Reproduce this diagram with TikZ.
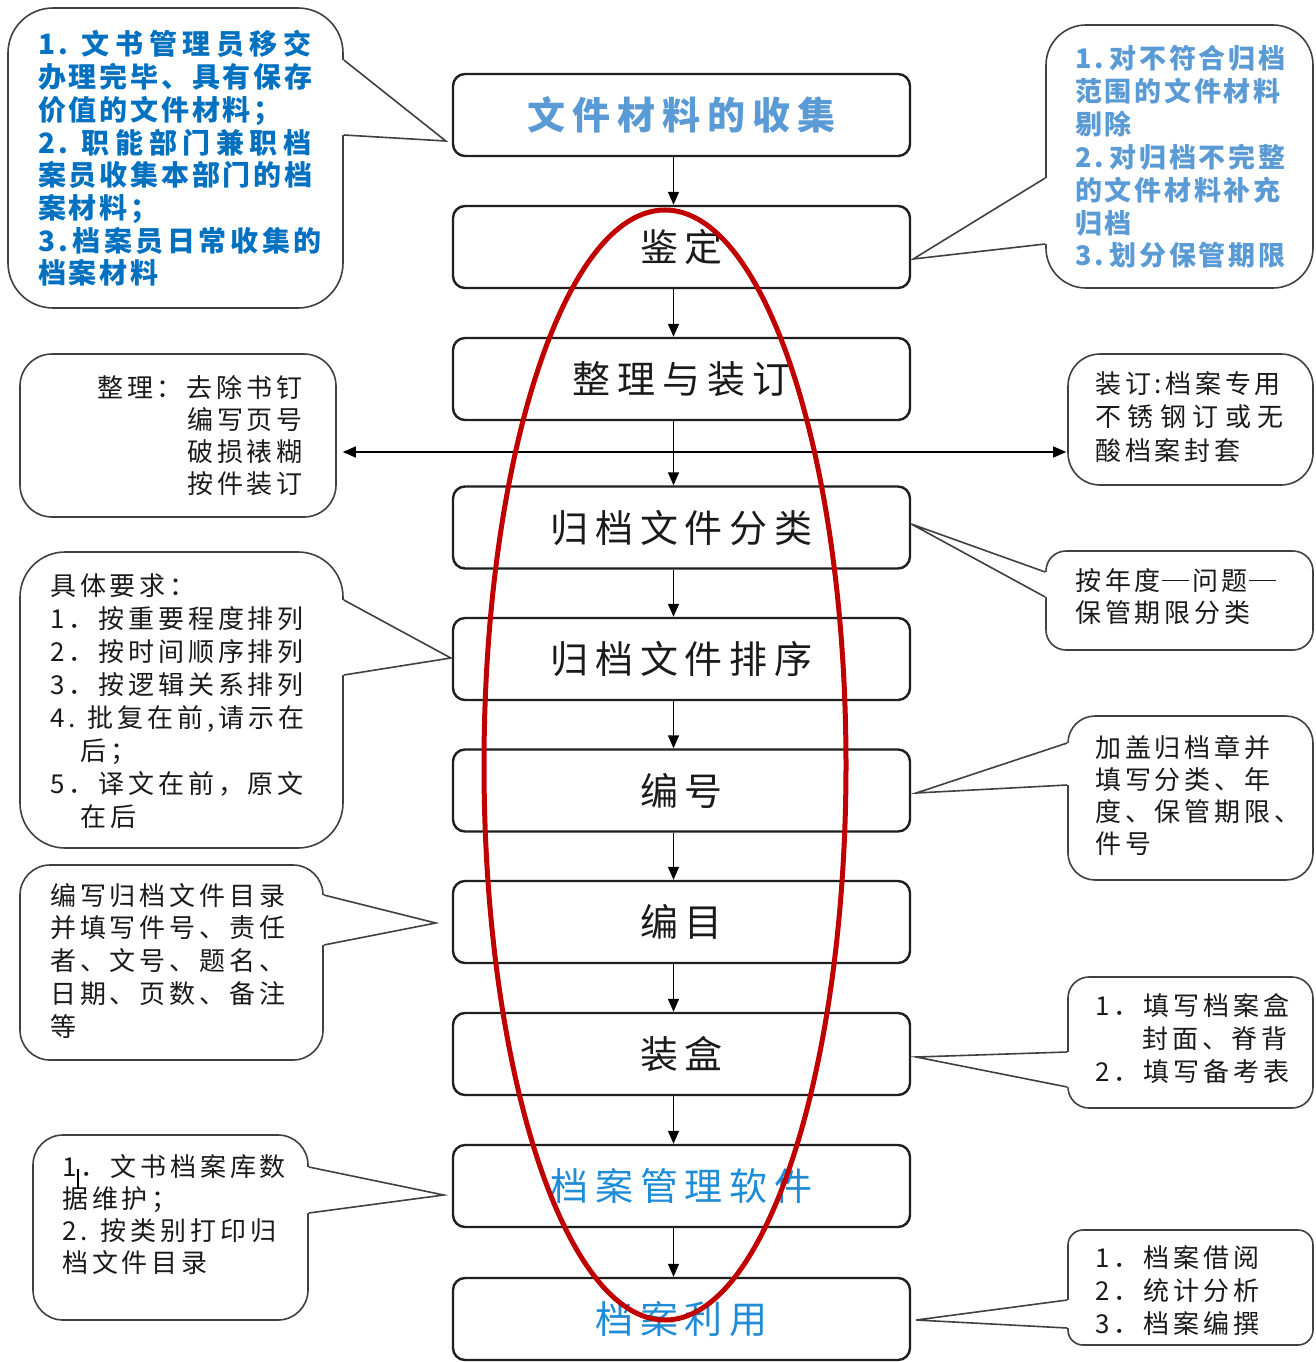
\documentclass[tikz,border=0pt]{standalone}
\usepackage{fontspec}
\setmainfont{Noto Sans CJK SC}
\newfontfamily\cjk{Noto Sans CJK SC}[LetterSpace=15]
\newfontfamily\cjkm{Noto Sans CJK SC}[LetterSpace=18]
\newfontfamily\cjkt{Noto Sans CJK SC}[LetterSpace=10]
\usetikzlibrary{arrows.meta,calc}
\definecolor{blueA}{RGB}{0,112,192}
\definecolor{blueB}{RGB}{91,155,213}
\definecolor{blueC}{RGB}{30,140,215}
\definecolor{ered}{RGB}{192,0,0}
\definecolor{inkc}{RGB}{26,26,26}

\newcommand\cbx[6]{%
  \pgfmathsetmacro\cbW{#4-#2}\pgfmathsetmacro\cbH{#5-#3}%
  \node[cbox, rounded corners=#6pt, minimum width=\cbW pt, minimum height=\cbH pt] (#1) at ({(#2+#4)/2},{(#3+#5)/2}) {};}
\newcommand\ptrR[4]{%
  \coordinate (#1pa) at (#1.east |- 0,#2);
  \coordinate (#1pb) at (#1.east |- 0,#3);
  \fill[white] ([xshift=-3pt]#1pa) -- (#1pa) -- (#4) -- (#1pb) -- ([xshift=-3pt]#1pb) -- cycle;
  \draw[cline] (#1pa) -- (#4) -- (#1pb);}
\newcommand\ptrL[4]{%
  \coordinate (#1pa) at (#1.west |- 0,#2);
  \coordinate (#1pb) at (#1.west |- 0,#3);
  \fill[white] ([xshift=3pt]#1pa) -- (#1pa) -- (#4) -- (#1pb) -- ([xshift=3pt]#1pb) -- cycle;
  \draw[cline] (#1pa) -- (#4) -- (#1pb);}
\newcommand\tlines[5]{%
  \foreach \lnx [count=\i from 0] in {#5}{%
    \node[anchor=base west, inner sep=0pt] (#1-\i) at ({#2},{#3+\i*#4}) {\lnx};}}
\newcommand\cjdash{\kern1pt\rule[9pt]{27pt}{1.3pt}\kern3pt}

\begin{document}
\begin{tikzpicture}[x=1pt,y=-1pt,
  mainbox/.style={draw=black!88, line width=2.4pt, rounded corners=12pt, minimum width=457pt, minimum height=82pt, inner sep=0pt, text=inkc, font=\cjkm\fontsize{38}{40}\selectfont},
  cbox/.style={draw=black!75, line width=1.6pt, inner sep=0pt},
  cline/.style={draw=black!75, line width=1.6pt, line join=miter},
  arr/.style={draw=black, line width=1.4pt, -{Triangle[length=13pt,width=11pt]}},
  darr/.style={draw=black, line width=1.4pt, {Triangle[length=13pt,width=11pt]}-{Triangle[length=13pt,width=11pt]}},
  ctext/.style={every node/.append style={font=\cjk\fontsize{26}{26}\selectfont, text=inkc}}
]
\useasboundingbox (0,0) rectangle (1316,1362);
\fill[white] (0,0) rectangle (1316,1362);

% main process boxes
\node[mainbox, text=blueB, font=\cjkm\bfseries\fontsize{38}{40}\selectfont] (b1) at (681.5,115) {文件材料的收集};
\node[mainbox] (b2) at (681.5,247) {鉴定};
\node[mainbox] (b3) at (681.5,379) {整理与装订};
\node[mainbox] (b4) at (681.5,527.5) {归档文件分类};
\node[mainbox] (b5) at (681.5,659) {归档文件排序};
\node[mainbox] (b6) at (681.5,790.5) {编号};
\node[mainbox] (b7) at (681.5,922) {编目};
\node[mainbox] (b8) at (681.5,1054) {装盒};
\node[mainbox, text=blueC] (b9) at (681.5,1186) {档案管理软件};
\node[mainbox, text=blueC] (b10) at (681.5,1319) {档案利用};

% arrows between boxes
\foreach \a/\b in {b1/b2,b2/b3,b3/b4,b4/b5,b5/b6,b6/b7,b7/b8,b8/b9,b9/b10}
  \draw[arr] ([xshift=-8pt]\a.south) -- ([xshift=-8pt]\b.north);

% callout bodies
\cbx{c1}{8}{8}{343}{308}{45}
\cbx{c2}{1046}{25}{1313}{288}{40}
\cbx{c3}{20}{354}{336}{517}{32}
\cbx{c4}{1068}{354}{1313}{485}{32}
\cbx{c5}{1046}{551}{1313}{650}{20}
\cbx{c6}{20}{552}{343}{848}{45}
\cbx{c7}{1068}{716}{1313}{880}{27}
\cbx{c8}{20}{865}{323}{1060}{30}
\cbx{c9}{1068}{977}{1313}{1108}{21}
\cbx{c10}{33}{1135}{308}{1320}{30}
\cbx{c11}{1068}{1230}{1313}{1345}{15}

% pointer tips
\coordinate (t1) at ($(b1.west)+(-6,26)$);
\coordinate (t2) at ($(b2.east)+(2,12)$);
\coordinate (t5) at ($(b4.east)+(0,-3.5)$);
\coordinate (t6) at ($(b5.west)+(-1,-1)$);
\coordinate (t7) at ($(b6.east)+(5,2.5)$);
\coordinate (t8) at ($(b7.west)+(-16,1)$);
\coordinate (t9) at ($(b8.east)+(5,3)$);
\coordinate (t10) at ($(b9.west)+(-8,9)$);
\coordinate (t11) at ($(b10.east)+(5,1)$);

\ptrR{c1}{60}{135}{t1}
\ptrL{c2}{178}{244}{t2}
\ptrL{c5}{572}{597}{t5}
\ptrR{c6}{600}{675}{t6}
\ptrL{c7}{743}{785}{t7}
\ptrR{c8}{895}{945}{t8}
\ptrL{c9}{1052}{1087}{t9}
\ptrR{c10}{1167}{1213}{t10}
\ptrL{c11}{1300}{1328}{t11}

% double arrow between the two side notes
\draw[darr] ($(c3.east)+(6,16.5)$) -- ($(c4.west)+(-1,32.5)$);

% callout texts
\begin{scope}[every node/.append style={font=\cjkt\bfseries\fontsize{28}{28}\selectfont, text=blueA}]
\tlines{x1}{38}{55}{32.7}{{1.\kern14pt\addfontfeature{LetterSpace=20}文书管理员移交}, 办理完毕、具有保存, 价值的文件材料；, {2.\kern14pt\addfontfeature{LetterSpace=20}职能部门兼职档}, 案员收集本部门的档, 案材料；, {\addfontfeature{LetterSpace=13}3.档案员日常收集的}, 档案材料}
\end{scope}
\begin{scope}[every node/.append style={font=\cjkt\bfseries\fontsize{27}{27}\selectfont, text=blueB}]
\tlines{x2}{1075}{69}{32.8}{{1.\kern6pt 对不符合归档}, 范围的文件材料, 剔除, {2.\kern6pt 对归档不完整}, 的文件材料补充, 归档, {3.\kern6pt 划分保管期限}}
\end{scope}
\begin{scope}[ctext]
\tlines{x3}{97}{397}{32.3}{整理：去除书钉, \kern90pt 编写页号, \kern90pt 破损裱糊, \kern90pt 按件装订}
\tlines{x4}{1095}{393}{33.5}{装订\kern3pt:档案专用, {\addfontfeature{LetterSpace=25}不锈钢订或无}, 酸档案封套}
\tlines{x5}{1075}{590}{32}{按年度\cjdash 问题\cjdash, 保管期限分类}
\tlines{x6}{50}{595}{33.1}{具体要求：, 1．按重要程度排列, 2．按时间顺序排列, 3．按逻辑关系排列, {4.\kern12pt 批复在前,请示在}, \kern30pt 后；, 5．译文在前，原文, \kern30pt 在后}
\tlines{x7}{1095}{757}{32.3}{加盖归档章并, 填写分类、年, 度、保管期限、, 件号}
\tlines{x8}{50}{905}{32.8}{编写归档文件目录, 并填写件号、责任, 者、文号、题名、, 日期、页数、备注, 等}
\tlines{x9}{1095}{1015}{33}{1．填写档案盒, \kern47pt 封面、脊背, 2．填写备考表}
\tlines{x10}{62}{1176}{32.3}{1．文书档案库数, 据维护；, {2.\kern13pt 按类别打印归}, 档文件目录}
\tlines{x11}{1095}{1267}{33}{1．档案借阅, 2．统计分析, 3．档案编撰}
\end{scope}
% text cursor mark
\draw[line width=2.5pt, black] (78,1169) -- (78,1189);

% red ellipse
\draw[ered, line width=5pt] (665,765) ellipse [x radius=181, y radius=555];
\end{tikzpicture}
\end{document}
